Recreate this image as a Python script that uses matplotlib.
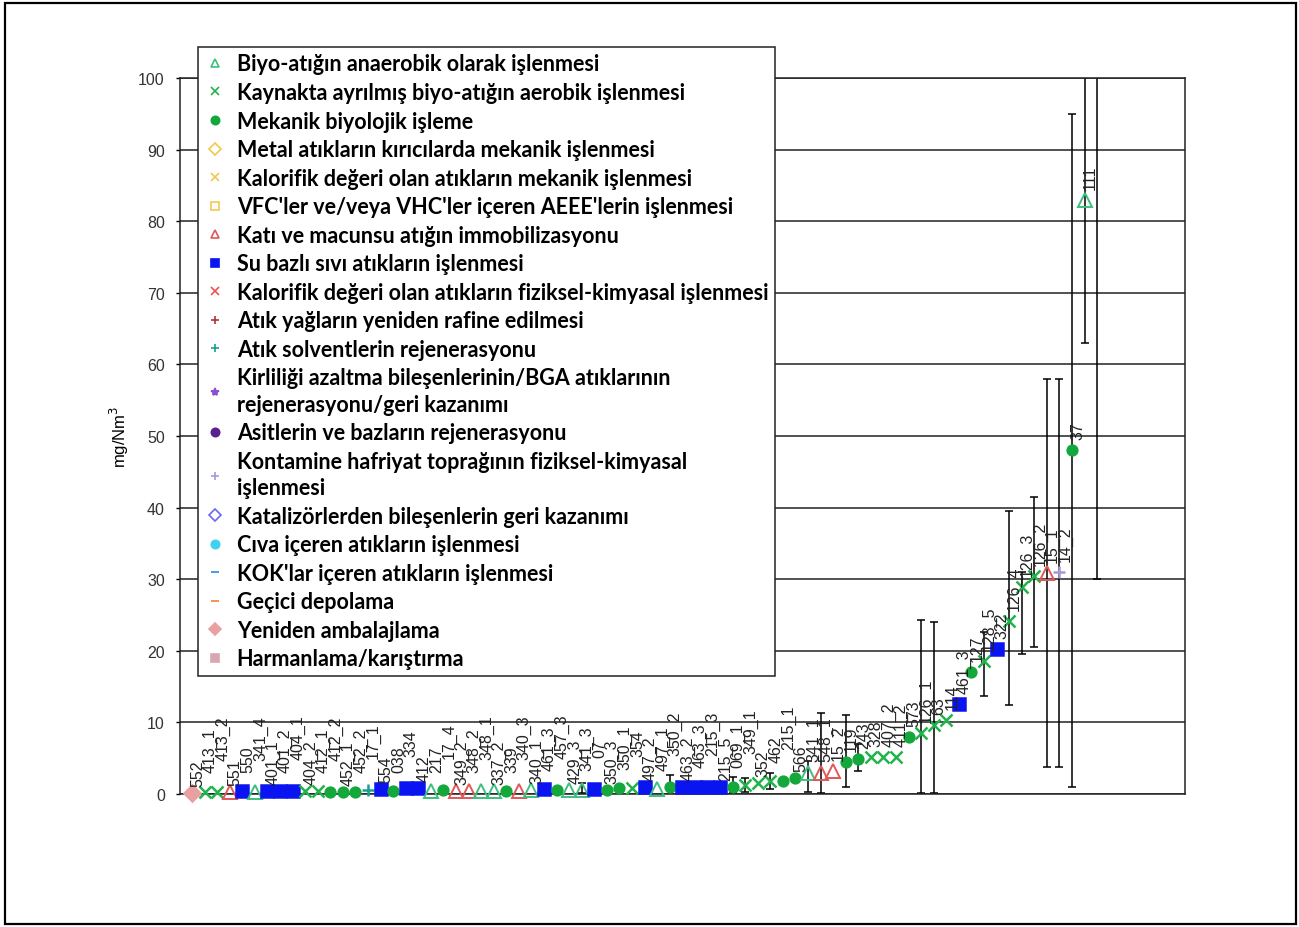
# %%
import numpy as np
import matplotlib.pyplot as plt
from matplotlib.lines import Line2D
from matplotlib.patches import Rectangle

# %%
# legend categories: label, marker, colour
cat_names = [
    "Biyo-atığın anaerobik olarak işlenmesi",
    "Kaynakta ayrılmış biyo-atığın aerobik işlenmesi",
    "Mekanik biyolojik işleme",
    "Metal atıkların kırıcılarda mekanik işlenmesi",
    "Kalorifik değeri olan atıkların mekanik işlenmesi",
    "VFC'ler ve/veya VHC'ler içeren AEEE'lerin işlenmesi",
    "Katı ve macunsu atığın immobilizasyonu",
    "Su bazlı sıvı atıkların işlenmesi",
    "Kalorifik değeri olan atıkların fiziksel-kimyasal işlenmesi",
    "Atık yağların yeniden rafine edilmesi",
    "Atık solventlerin rejenerasyonu",
    "Kirliliği azaltma bileşenlerinin/BGA atıklarının\nrejenerasyonu/geri kazanımı",
    "Asitlerin ve bazların rejenerasyonu",
    "Kontamine hafriyat toprağının fiziksel-kimyasal\nişlenmesi",
    "Katalizörlerden bileşenlerin geri kazanımı",
    "Cıva içeren atıkların işlenmesi",
    "KOK'lar içeren atıkların işlenmesi",
    "Geçici depolama",
    "Yeniden ambalajlama",
    "Harmanlama/karıştırma",
]
cat_markers = ['^', 'x', 'o', 'D', 'x', 's', '^', 's', 'x', '+',
               '+', '*', 'o', '+', 'D', 'o', '_', '_', 'D', 's']
cat_colors = ['#3dbf7f', '#22b24c', '#14a83c', '#f2c94c', '#f2c94c', '#f2c94c',
              '#e05858', '#0a14f0', '#f05050', '#b03040', '#1aa090', '#8a4fd0',
              '#5a2090', '#a898d8', '#6a6af0', '#40d0f0', '#3088e0', '#f08040',
              '#e8a0a0', '#d8a8b0']
cat_filled = [False, True, True, False, True, False, False, True, True, True,
              True, True, True, True, False, True, True, True, True, True]

# %%
# plants, sorted by concentration (category index into cat_names, -1 = bar only)
plant_ids = ["552", "413_1", "413_2", "551", "550", "341_4", "401_1", "401_2", "404_1", "404_2",
             "412_1", "412_2", "452_1", "452_2", "17_1", "554", "038", "334", "412", "217",
             "17_4", "349_2", "348_2", "348_1", "337_2", "339", "340_3", "340_1", "461_3", "457_3",
             "429_3", "341_3", "07", "350_3", "350_1", "354", "497_2", "497_1", "350_2", "463_2",
             "463_3", "215_3", "215_5", "069_1", "349_1", "352", "462", "215_1", "566", "341_1",
             "548_1", "15_2", "119", "243", "328", "407_2", "411_2", "573", "126_1", "63",
             "114", "461_3", "127", "128_5", "322", "126_4", "126_3", "126_2", "15_1", "14_2",
             "37", "111", ""]
plant_cat = [18, 1, 1, 6, 7, 0, 7, 7, 7, 1,
             1, 2, 2, 2, 10, 7, 2, 7, 7, 0,
             2, 6, 6, 0, 0, 2, 6, 0, 7, 2,
             0, 0, 7, 2, 2, 1, 7, 0, 2, 7,
             7, 7, 7, 2, 1, 1, 1, 2, 2, 0,
             6, 6, 2, 2, 1, 1, 1, 2, 1, 1,
             1, 7, 2, 1, 7, 1, 1, 1, 6, 13,
             2, 0, -1]
conc = [0.2, 0.3, 0.3, 0.3, 0.4, 0.3, 0.4, 0.4, 0.4, 0.4,
        0.4, 0.3, 0.3, 0.3, 0.5, 0.7, 0.4, 0.8, 0.8, 0.4,
        0.5, 0.4, 0.4, 0.4, 0.4, 0.4, 0.4, 0.5, 0.7, 0.5,
        0.5, 0.6, 0.7, 0.5, 0.8, 0.9, 1.0, 0.7, 1.0, 1.0,
        1.0, 1.0, 1.0, 1.0, 1.2, 1.5, 1.8, 1.8, 2.2, 3.0,
        3.0, 3.2, 4.5, 4.9, 5.1, 5.1, 5.1, 8.0, 8.5, 9.6,
        10.3, 12.6, 17.0, 18.6, 20.2, 24.2, 28.9, 30.5, 30.8, 31.0,
        48.0, 83.0, np.nan]
# min / max bars
err_lo = {31: 0.2, 38: 0.6, 43: 0.2, 44: 0.3, 46: 0.7, 49: 0.3, 50: 0.1, 52: 1.0,
          53: 3.2, 58: 0.2, 59: 0.2, 63: 13.7, 65: 12.5, 66: 19.5, 67: 20.5,
          68: 3.8, 69: 3.8, 70: 1.0, 71: 63.0, 72: 30.0}
err_hi = {31: 1.5, 38: 2.6, 43: 2.4, 44: 2.3, 46: 3.0, 49: 4.6, 50: 11.3, 52: 11.0,
          53: 7.0, 58: 24.3, 59: 24.0, 63: 22.6, 65: 39.5, 66: 31.0, 67: 41.5,
          68: 58.0, 69: 58.0, 70: 95.0, 71: 130.0, 72: 130.0}

# %%
fig = plt.figure(figsize=(12.99, 9.28), dpi=100)
fig.patches.append(Rectangle((0.004, 0.003), 0.994, 0.993, transform=fig.transFigure,
                             fill=False, edgecolor='black', lw=1.6))
ax = fig.add_axes([0.1386, 0.1433, 0.7737, 0.7716])

x = np.arange(len(conc))

for i in err_lo:
    ax.vlines(x[i], err_lo[i], err_hi[i], color='black', lw=1.1, zorder=2)
    ax.plot([x[i], x[i]], [err_lo[i], err_hi[i]], ls='none', marker='_', ms=6,
            mew=1.1, color='black', zorder=2)

for i, (c, v) in enumerate(zip(plant_cat, conc)):
    if c < 0:
        continue
    m = cat_markers[c]
    col = cat_colors[c]
    ms = {'s': 9, 'o': 7, '^': 10, 'x': 8, '+': 9}.get(m, 8)
    if cat_filled[c]:
        ax.plot(x[i], v, marker=m, ms=ms, color=col, mew=1.8, ls='none',
                clip_on=False, zorder=3)
    else:
        ax.plot(x[i], v, marker=m, ms=ms, mfc='none', mec=col, mew=1.4, ls='none',
                clip_on=False, zorder=3)

# id labels next to each point, staggered in the crowded low range
for i, (lab, v) in enumerate(zip(plant_ids, conc)):
    if not lab or np.isnan(v):
        continue
    dy = 5 + (i % 3) * 9 if i < 49 else 8
    ax.annotate(lab, (x[i], v), xytext=(4, dy), textcoords='offset points',
                rotation=90, ha='center', va='bottom', fontsize=11.5,
                family='Liberation Sans', color='#222222')

ax.set_xlim(-0.95, 79)
ax.set_ylim(0, 100)
ax.set_yticks(range(0, 101, 10))
ax.set_xticks([])
ax.yaxis.grid(True, color='#222222', lw=1.1)
ax.set_axisbelow(True)
ax.tick_params(axis='y', length=3, width=1, pad=8, labelsize=11.5, labelcolor='#333333')
for lab in ax.get_yticklabels():
    lab.set_family('Liberation Sans')
for s in ax.spines.values():
    s.set_color('#222222')
    s.set_linewidth(1.1)
ax.set_ylabel('mg/Nm$^3$', fontsize=12, family='Liberation Sans', labelpad=5)

# %%
handles = []
for m, col, filled in zip(cat_markers, cat_colors, cat_filled):
    handles.append(Line2D([], [], ls='none', marker=m, ms=6, mew=1.2, color=col,
                          mfc=col if filled else 'none'))
leg = fig.legend(handles, cat_names, loc='upper left', bbox_to_anchor=(0.1524, 0.9483),
                 bbox_transform=fig.transFigure, frameon=True, fancybox=False,
                 edgecolor='#222222', framealpha=1, handlelength=1.0, handletextpad=0.5,
                 borderpad=0.3, labelspacing=0.35, borderaxespad=0,
                 prop={'family': 'Lato', 'weight': 'bold', 'size': 15.5})
leg.get_frame().set_linewidth(1.1)
for t in leg.get_texts():
    t.set_linespacing(1.32)

fig.savefig('out.png', dpi=100)
